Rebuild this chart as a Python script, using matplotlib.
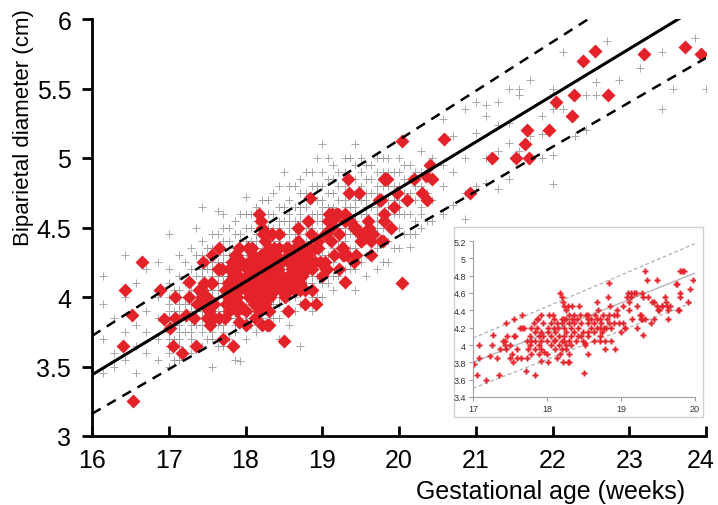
import numpy as np
import matplotlib
matplotlib.use("Agg")
import matplotlib.pyplot as plt
from matplotlib.patches import Rectangle
from matplotlib.ticker import FuncFormatter
from matplotlib.transforms import ScaledTranslation

plt.rcParams['font.family'] = ['Liberation Sans', 'DejaVu Sans']

# reference population (grey crosses), one column per gestational age
gray_weeks = [16.14, 16.29, 16.43, 16.57, 16.71, 16.86,
              17.0, 17.07, 17.14, 17.21, 17.29, 17.36, 17.43, 17.5, 17.57, 17.64,
              17.71, 17.79, 17.86, 17.93, 18.0, 18.07, 18.14, 18.21, 18.29, 18.36,
              18.43, 18.5, 18.57, 18.64, 18.71, 18.79, 18.86, 18.93, 19.0, 19.07,
              19.14, 19.21, 19.29, 19.36, 19.43, 19.5, 19.57, 19.64, 19.71, 19.79,
              19.86, 19.93, 20.0, 20.07, 20.14, 20.21, 20.29, 20.36, 20.43,
              20.57, 20.71, 20.86, 21.0, 21.14, 21.29, 21.43, 21.57, 21.71,
              21.86, 22.0, 22.14, 22.29, 22.43, 22.57, 22.71, 22.86, 23.14, 23.43,
              23.57, 23.86, 24.0]
gray_bpd = [
    [3.45, 3.7, 3.95, 4.15],
    [3.5, 3.6, 3.85],
    [3.55, 3.75, 4.0, 4.3],
    [3.45, 3.65, 3.8, 4.1],
    [3.6, 3.75, 3.9, 4.2],
    [3.55, 3.7, 3.85, 4.0, 4.25],
    [3.5, 3.6, 3.65, 3.7, 3.75, 3.8, 3.85, 3.9, 3.95, 4.0, 4.1, 4.2, 4.45],
    [3.55, 3.7, 3.8, 3.9, 4.05],
    [3.55, 3.65, 3.7, 3.75, 3.8, 3.85, 3.9, 3.95, 4.0, 4.05, 4.15, 4.3],
    [3.6, 3.75, 3.85, 3.95, 4.1, 4.25],
    [3.6, 3.7, 3.75, 3.8, 3.85, 3.9, 3.95, 4.0, 4.05, 4.1, 4.2, 4.35],
    [3.65, 3.8, 3.9, 4.0, 4.05, 4.15, 4.3, 4.5],
    [3.65, 3.75, 3.8, 3.85, 3.9, 3.95, 4.0, 4.05, 4.1, 4.15, 4.2, 4.3, 4.4, 4.65],
    [3.7, 3.8, 3.9, 3.95, 4.05, 4.1, 4.2, 4.25, 4.35],
    [3.5, 3.7, 3.75, 3.8, 3.85, 3.9, 3.95, 4.0, 4.05, 4.1, 4.15, 4.2, 4.25, 4.3, 4.35, 4.45],
    [3.65, 3.8, 3.9, 4.0, 4.05, 4.1, 4.15, 4.25, 4.35, 4.45, 4.62],
    [3.65, 3.75, 3.8, 3.85, 3.9, 3.95, 4.0, 4.05, 4.1, 4.15, 4.2, 4.25, 4.3, 4.4, 4.5, 4.6],
    [3.7, 3.85, 3.95, 4.05, 4.1, 4.15, 4.2, 4.3, 4.4, 4.5],
    [3.55, 3.75, 3.8, 3.85, 3.9, 3.95, 4.0, 4.05, 4.1, 4.15, 4.2, 4.25, 4.3, 4.35, 4.45, 4.55],
    [3.54, 3.8, 3.9, 4.0, 4.1, 4.15, 4.2, 4.3, 4.35, 4.45, 4.6],
    [3.7, 3.8, 3.85, 3.9, 3.95, 4.0, 4.05, 4.1, 4.15, 4.2, 4.25, 4.3, 4.35, 4.4, 4.5, 4.6, 4.72],
    [3.8, 3.9, 4.0, 4.1, 4.2, 4.25, 4.3, 4.4, 4.5, 4.6],
    [3.75, 3.85, 3.9, 3.95, 4.0, 4.05, 4.1, 4.15, 4.2, 4.25, 4.3, 4.35, 4.4, 4.45, 4.55, 4.65],
    [3.85, 3.95, 4.05, 4.15, 4.2, 4.3, 4.35, 4.45, 4.55, 4.7],
    [3.8, 3.9, 3.95, 4.0, 4.05, 4.1, 4.15, 4.2, 4.25, 4.3, 4.35, 4.4, 4.45, 4.5, 4.6, 4.7],
    [3.85, 3.95, 4.05, 4.15, 4.25, 4.3, 4.4, 4.5, 4.6, 4.75],
    [3.7, 3.85, 3.95, 4.0, 4.05, 4.1, 4.15, 4.2, 4.25, 4.3, 4.35, 4.4, 4.45, 4.5, 4.55, 4.65, 4.8],
    [3.9, 4.0, 4.1, 4.2, 4.3, 4.35, 4.45, 4.55, 4.65, 4.9],
    [3.8, 3.9, 4.0, 4.05, 4.1, 4.15, 4.2, 4.25, 4.3, 4.35, 4.4, 4.45, 4.5, 4.55, 4.6, 4.7, 4.8],
    [3.9, 4.0, 4.1, 4.2, 4.3, 4.4, 4.45, 4.55, 4.65, 4.8],
    [3.65, 3.95, 4.05, 4.1, 4.15, 4.2, 4.25, 4.3, 4.35, 4.4, 4.45, 4.5, 4.55, 4.6, 4.65, 4.75, 4.85],
    [3.95, 4.1, 4.2, 4.3, 4.4, 4.5, 4.55, 4.65, 4.75, 4.9],
    [3.9, 4.0, 4.1, 4.15, 4.2, 4.25, 4.3, 4.35, 4.4, 4.45, 4.5, 4.55, 4.6, 4.7, 4.8, 4.9],
    [4.0, 4.15, 4.25, 4.35, 4.45, 4.55, 4.6, 4.7, 4.8, 5.0],
    [4.0, 4.1, 4.2, 4.25, 4.3, 4.35, 4.4, 4.45, 4.5, 4.55, 4.6, 4.65, 4.7, 4.8, 4.9, 5.1],
    [4.1, 4.2, 4.3, 4.4, 4.5, 4.6, 4.65, 4.75, 4.85, 5.0],
    [4.05, 4.15, 4.25, 4.3, 4.35, 4.4, 4.45, 4.5, 4.55, 4.6, 4.65, 4.75, 4.85, 4.95],
    [4.15, 4.3, 4.4, 4.5, 4.6, 4.7, 4.8, 4.9],
    [4.1, 4.2, 4.3, 4.35, 4.4, 4.45, 4.5, 4.55, 4.6, 4.65, 4.7, 4.8, 4.9, 5.0],
    [4.2, 4.35, 4.45, 4.55, 4.65, 4.75, 4.85, 5.0],
    [4.05, 4.2, 4.3, 4.35, 4.45, 4.5, 4.55, 4.6, 4.65, 4.7, 4.75, 4.85, 4.95, 5.1],
    [4.25, 4.4, 4.5, 4.6, 4.7, 4.8, 4.9, 5.0],
    [4.15, 4.3, 4.4, 4.45, 4.5, 4.55, 4.6, 4.65, 4.7, 4.75, 4.85, 4.95],
    [4.3, 4.45, 4.55, 4.65, 4.75, 4.85, 4.95],
    [4.2, 4.35, 4.45, 4.5, 4.55, 4.6, 4.65, 4.7, 4.75, 4.8, 4.9, 5.0],
    [4.25, 4.4, 4.5, 4.6, 4.7, 4.8, 4.9, 5.0],
    [4.25, 4.4, 4.5, 4.55, 4.6, 4.65, 4.7, 4.8, 4.9, 5.0],
    [4.35, 4.5, 4.6, 4.7, 4.8, 4.9],
    [4.35, 4.5, 4.6, 4.65, 4.7, 4.75, 4.8, 4.9, 5.0],
    [4.45, 4.6, 4.75, 4.85, 4.95],
    [4.36, 4.45, 4.6, 4.7, 4.75, 4.85, 4.95],
    [4.45, 4.55, 4.7, 4.8, 4.9],
    [4.5, 4.6, 4.65, 4.8, 4.9, 5.05],
    [4.55, 4.75, 4.9],
    [4.55, 4.7, 4.85, 5.0],
    [4.6, 4.8, 4.95, 5.28],
    [4.66, 4.9, 5.16],
    [4.56, 4.75, 5.0, 5.35],
    [4.8, 5.18, 5.4],
    [4.82, 5.0, 5.3, 5.38],
    [4.78, 5.05, 5.24, 5.4],
    [4.85, 5.11, 5.25, 5.5],
    [5.05, 5.45, 5.5],
    [5.16, 5.56],
    [5.0, 5.17, 5.3],
    [4.81, 5.02, 5.35, 5.5],
    [5.35, 5.76],
    [5.16, 5.3, 5.45],
    [5.2, 5.45],
    [5.45, 5.55],
    [5.84],
    [5.56],
    [5.65],
    [5.35, 5.76],
    [5.5],
    [5.86],
    [5.5],
]

# study cases (red diamonds)
red_x = [16.4, 16.43, 16.52, 16.53, 16.65, 16.89, 16.94,
         17.02, 17.05, 17.08, 17.08, 17.17, 17.23, 17.26, 17.27, 17.33, 17.35,
         17.37, 17.4, 17.43, 17.43, 17.44, 17.45, 17.46, 17.5, 17.5, 17.53,
         17.54, 17.55, 17.56, 17.57, 17.59, 17.59, 17.64, 17.66, 17.65, 17.66,
         17.69, 17.71, 17.73, 17.74, 17.73, 17.77, 17.77, 17.79, 17.79, 17.79,
         17.83, 17.84, 17.84, 17.84, 17.84, 17.86, 17.88, 17.87, 17.89, 17.89,
         17.89, 17.92, 17.92, 17.92, 17.92, 17.92, 17.95, 17.95, 17.96, 18.0,
         18.0, 18.01, 18.02, 18.02, 18.03, 18.05, 18.05, 18.05, 18.08, 18.09,
         18.09, 18.1, 18.11, 18.11, 18.11, 18.13, 18.13, 18.15, 18.16, 18.16,
         18.17, 18.18, 18.2, 18.2, 18.2, 18.2, 18.2, 18.22, 18.22, 18.23,
         18.23, 18.23, 18.23, 18.23, 18.26, 18.26, 18.26, 18.26, 18.26, 18.28,
         18.28, 18.3, 18.3, 18.3, 18.3, 18.3, 18.32, 18.32, 18.32, 18.34,
         18.34, 18.37, 18.37, 18.37, 18.39, 18.4, 18.42, 18.42, 18.43, 18.44,
         18.46, 18.46, 18.48, 18.48, 18.5, 18.51, 18.52, 18.53, 18.55, 18.55,
         18.56, 18.56, 18.56, 18.56, 18.59, 18.6, 18.63, 18.63, 18.63, 18.65,
         18.67, 18.67, 18.68, 18.69, 18.71, 18.71, 18.71, 18.71, 18.73, 18.74,
         18.76, 18.77, 18.78, 18.78, 18.8, 18.81, 18.82, 18.84, 18.84, 18.84,
         18.85, 18.87, 18.87, 18.9, 18.9, 18.92, 18.94, 18.95, 18.97, 19.0,
         19.03, 19.03, 19.05, 19.06, 19.08, 19.09, 19.11, 19.11, 19.13, 19.13,
         19.15, 19.18, 19.2, 19.22, 19.22, 19.26, 19.27, 19.27, 19.29, 19.3,
         19.28, 19.3, 19.32, 19.33, 19.35, 19.36, 19.41, 19.42, 19.44, 19.44,
         19.48, 19.49, 19.5, 19.51, 19.55, 19.56, 19.6, 19.61, 19.62, 19.63,
         19.63, 19.66, 19.74, 19.76, 19.77, 19.79, 19.8, 19.82, 19.85, 19.8,
         19.8, 19.9, 19.93, 19.97,
         20.04, 20.04, 20.11, 20.2, 20.3, 20.35, 20.37, 20.4, 20.43, 20.58,
         20.93, 21.21, 21.53, 21.64, 21.67, 21.69, 21.96, 22.05, 22.25, 22.28,
         22.4, 22.55, 22.72, 23.19, 23.73, 23.94]
red_y = [3.65, 4.05, 3.87, 3.25, 4.25, 4.05, 3.84,
         3.78, 3.65, 4.0, 3.85, 3.6, 3.87, 4.0, 4.11, 3.85, 3.65,
         3.95, 4.05, 4.05, 4.0, 4.25, 3.95, 4.1, 4.0, 3.85, 3.9,
         3.8, 4.1, 4.3, 4.1, 3.95, 3.85, 4.2, 4.2, 3.85, 4.35,
         4.2, 3.7, 4.05, 3.95, 3.85, 4.1, 4.0, 4.2, 4.05, 3.9,
         4.25, 3.65, 4.15, 4.05, 3.95, 4.3, 4.3, 4.2, 4.1, 4.0,
         3.9, 4.35, 4.15, 4.05, 3.95, 3.82, 4.25, 4.1, 3.92, 4.05,
         3.9, 3.8, 4.2, 4.15, 4.35, 4.25, 4.1, 4.0, 4.35, 4.2,
         4.05, 4.3, 4.15, 4.06, 3.95, 4.25, 3.85, 4.2, 4.1, 4.0,
         3.9, 4.6, 4.55, 4.3, 4.25, 4.05, 3.95, 4.5, 3.8, 4.45,
         4.3, 4.2, 4.1, 4.05, 4.4, 4.3, 4.15, 4.0, 3.95, 4.45,
         3.8, 4.05, 3.9, 4.35, 4.25, 3.8, 4.2, 4.1, 4.0, 4.3,
         4.45, 4.25, 4.15, 4.35, 4.05, 4.3, 4.2, 4.1, 4.45, 4.35,
         4.25, 4.1, 4.15, 4.05, 3.68, 4.02, 4.0, 4.35, 4.3, 3.9,
         4.35, 4.25, 4.15, 4.1, 4.3, 4.2, 4.25, 4.15, 4.05, 4.35,
         4.3, 4.2, 4.5, 4.4, 4.3, 4.2, 4.1, 4.05, 4.25, 4.15,
         4.35, 4.2, 4.05, 3.95, 4.2, 4.3, 4.55, 4.71, 4.35, 4.25,
         4.45, 4.2, 4.05, 4.35, 4.25, 3.95, 4.35, 4.4, 4.25, 4.15,
         4.45, 4.25, 4.2, 4.2, 4.55, 4.6, 4.5, 4.4, 4.6, 4.55,
         4.3, 4.6, 4.6, 4.45, 4.2, 4.35, 4.35, 4.3, 4.6, 4.55,
         4.3, 4.11, 4.3, 4.85, 4.75, 4.55, 4.25, 4.5, 4.5, 4.3,
         4.75, 4.45, 4.4, 4.4, 4.45, 4.45, 4.55, 4.5, 4.45, 4.4,
         4.3, 4.45, 4.7, 4.7, 4.4, 4.4, 4.85, 4.85, 4.85, 4.6,
         4.55, 4.5, 4.65, 4.75,
         5.12, 4.1, 4.7, 4.85, 4.75, 4.87, 4.7, 4.95, 4.85, 5.14,
         4.75, 5.0, 5.0, 5.1, 5.2, 5.0, 5.2, 5.4, 5.3, 5.45,
         5.7, 5.77, 5.45, 5.75, 5.8, 5.75]

# regression line and limits (end points)
fit_x = [16, 24]
fit_y = [3.44, 6.12]
upper_y = [3.72, 6.54]
lower_y = [3.16, 5.72]

# inset lines
ins_x = [17, 20]
ins_fit = [3.80, 4.83]
ins_upper = [4.08, 5.17]
ins_lower = [3.50, 4.50]

RED = '#e4222a'

gx = np.concatenate([[w] * len(v) for w, v in zip(gray_weeks, gray_bpd)])
gy = np.concatenate(gray_bpd)

fig = plt.figure(figsize=(7.18, 5.06), dpi=100)
ax = fig.add_axes([92 / 718, 69 / 506, 614 / 718, 417 / 506])

ax.plot(gx, gy, '+', color='#6e6e6e', alpha=0.6, ms=5.5, mew=0.7, zorder=1)
ax.plot(red_x, red_y, 'D', color=RED, ms=6.8, mec='none', zorder=2)
ax.plot(fit_x, fit_y, '-', color='black', lw=2.2, zorder=3)
ax.plot(fit_x, upper_y, '--', color='black', lw=1.8, dashes=(4, 3), zorder=3)
ax.plot(fit_x, lower_y, '--', color='black', lw=1.8, dashes=(4, 3), zorder=3)

ax.set_xlim(16, 24)
ax.set_ylim(3, 6)
ax.set_xticks(range(16, 25))
ax.set_yticks([3, 3.5, 4, 4.5, 5, 5.5, 6])
ax.yaxis.set_major_formatter(FuncFormatter(lambda v, p: '%g' % v))
for s in ['top', 'right']:
    ax.spines[s].set_visible(False)
for s in ['left', 'bottom']:
    ax.spines[s].set_linewidth(2)
ax.tick_params(axis='x', direction='in', length=7, width=2, labelsize=18, pad=9)
ax.tick_params(axis='y', direction='out', length=7, width=2, labelsize=18, pad=8)

# keep the last x label inside the picture
last = ax.get_xticklabels()[-1]
last.set_transform(last.get_transform() + ScaledTranslation(-0.05, 0, fig.dpi_scale_trans))

fig.text(551 / 718, 1 - 492 / 506, 'Gestational age (weeks)', ha='center', va='center', fontsize=18)
fig.text(24 / 718, 1 - 128 / 506, 'Biparietal diameter (cm)', ha='center', va='center',
         rotation=90, fontsize=16)

# inset frame
frame = Rectangle((454 / 718, 1 - 418 / 506), 249 / 718, 190 / 506, transform=fig.transFigure,
                  facecolor='white', edgecolor='#d0d0d0', lw=1, zorder=1)
fig.patches.append(frame)

ins = fig.add_axes([473 / 718, 1 - 398 / 506, 222 / 718, 156 / 506], zorder=2)
ins.patch.set_alpha(0)
ins.plot(ins_x, ins_fit, '-', color='#b0b0b0', lw=0.9)
ins.plot(ins_x, ins_upper, '--', color='#b0b0b0', lw=0.9, dashes=(3, 2))
ins.plot(ins_x, ins_lower, '--', color='#b0b0b0', lw=0.9, dashes=(3, 2))
rx = np.array(red_x)
ry = np.array(red_y)
keep = (rx >= 17) & (rx <= 20)
ins.plot(rx[keep], ry[keep], 'P', color=RED, ms=3.8, mec='none')
ins.set_xlim(17, 20)
ins.set_ylim(3.4, 5.2)
ins.set_xticks([17, 18, 19, 20])
ins.set_yticks(np.arange(3.4, 5.21, 0.2))
ins.yaxis.set_major_formatter(FuncFormatter(lambda v, p: '%g' % round(v, 1)))
for s in ['top', 'right']:
    ins.spines[s].set_visible(False)
for s in ['left', 'bottom']:
    ins.spines[s].set_color('#a0a0a0')
    ins.spines[s].set_linewidth(0.8)
ins.tick_params(labelsize=6.5, colors='#a0a0a0', labelcolor='#333333', length=3, width=0.8, pad=2)

fig.savefig('out.png', dpi=100)
